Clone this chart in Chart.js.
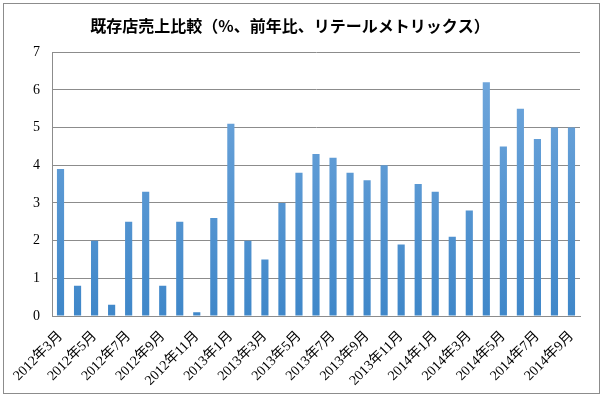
<!DOCTYPE html>
<html>
<head>
<meta charset="utf-8">
<script src="https://cdn.jsdelivr.net/npm/chart.js@4/dist/chart.umd.min.js"></script>
<style>
    html, body { margin: 0; padding: 0; background: #fff; }
    .wrap { position: relative; width: 604px; height: 397px; }
    .frame { position: absolute; left: 3px; top: 3px; width: 595px; height: 389px; border: 1px solid #8c8c8c; pointer-events: none; }
</style>
</head>
<body>
<div class="wrap">
    <canvas id="salesChart" width="604" height="397"></canvas>
    <div class="frame"></div>
</div>
<script>
// 既存店売上比較 (%, 前年比)
const months = [
    '2012年3月', '2012年4月', '2012年5月', '2012年6月', '2012年7月', '2012年8月',
    '2012年9月', '2012年10月', '2012年11月', '2012年12月', '2013年1月', '2013年2月',
    '2013年3月', '2013年4月', '2013年5月', '2013年6月', '2013年7月', '2013年8月',
    '2013年9月', '2013年10月', '2013年11月', '2013年12月', '2014年1月', '2014年2月',
    '2014年3月', '2014年4月', '2014年5月', '2014年6月', '2014年7月', '2014年8月',
    '2014年9月'
];
const salesGrowth = [
    3.9, 0.8, 2.0, 0.3, 2.5, 3.3, 0.8, 2.5, 0.1, 2.6, 5.1, 2.0,
    1.5, 3.0, 3.8, 4.3, 4.2, 3.8, 3.6, 4.0, 1.9, 3.5, 3.3, 2.1,
    2.8, 6.2, 4.5, 5.5, 4.7, 5.0, 5.0
];
const yTicks = [0, 1, 2, 3, 4, 5, 6, 7];

const tickFont = "'Liberation Serif', 'Noto Sans CJK JP', serif";

const barGradient = (context) => {
    const { ctx, chartArea } = context.chart;
    if (!chartArea) return '#5b9bd5';
    const g = ctx.createLinearGradient(0, chartArea.top, 0, chartArea.bottom);
    g.addColorStop(0, '#74a9dd');
    g.addColorStop(1, '#3f87c9');
    return g;
};

const ctx = document.getElementById('salesChart').getContext('2d');
new Chart(ctx, {
    type: 'bar',
    data: {
        labels: months,
        datasets: [{
            label: '既存店売上比較',
            data: salesGrowth,
            backgroundColor: barGradient,
            borderWidth: 0,
            barPercentage: 0.42,
            categoryPercentage: 1
        }]
    },
    options: {
        responsive: false,
        animation: false,
        layout: { padding: { left: 0, right: 24, top: 0, bottom: 6 } },
        plugins: {
            legend: { display: false },
            tooltip: { enabled: false },
            title: {
                display: true,
                text: '既存店売上比較（%、前年比、リテールメトリックス）',
                color: '#000',
                font: { family: "'Noto Sans CJK JP', sans-serif", size: 16, weight: 'bold', lineHeight: 1.2 },
                padding: { top: 16, bottom: 17 }
            }
        },
        scales: {
            x: {
                afterFit: (scale) => { scale.height = 75; },
                grid: { display: false },
                border: { color: '#8c8c8c', width: 1 },
                ticks: {
                    autoSkip: false,
                    maxRotation: 45,
                    minRotation: 45,
                    color: '#000',
                    padding: 4,
                    font: { family: tickFont, size: 14 },
                    callback: (value, index) => index % 2 === 0 ? months[index] : ''
                }
            },
            y: {
                min: 0,
                max: 7,
                afterFit: (scale) => { scale.width = 52; },
                afterBuildTicks: (scale) => { scale.ticks = yTicks.map(v => ({ value: v })); },
                grid: { color: '#8c8c8c', drawTicks: false },
                border: { color: '#8c8c8c', width: 1 },
                ticks: {
                    color: '#000',
                    padding: 12,
                    font: { family: tickFont, size: 14 }
                }
            }
        }
    }
});
</script>
</body>
</html>
